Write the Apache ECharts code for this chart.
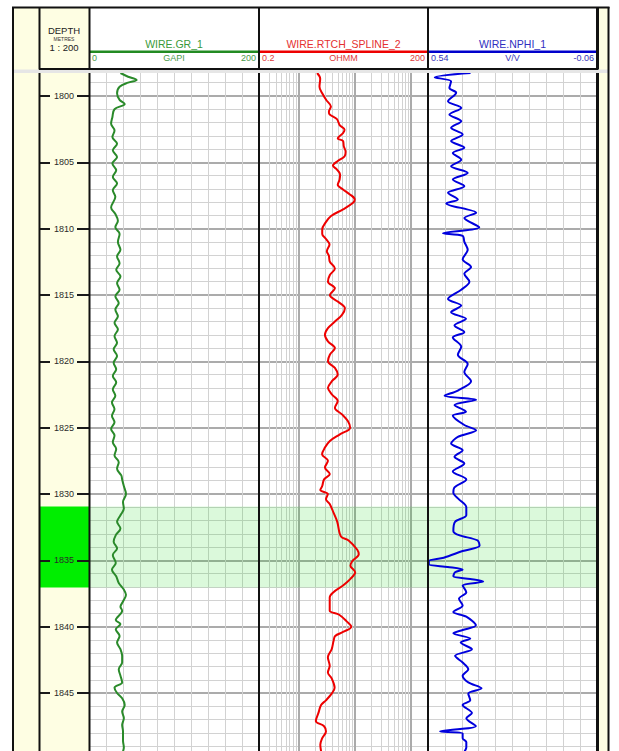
<!DOCTYPE html>
<html>
<head>
<meta charset="utf-8">
<script src="https://cdn.jsdelivr.net/npm/echarts@6/dist/echarts.min.js"></script>
<style>
html,body{margin:0;padding:0;background:#ffffff;}
#chart{width:619px;height:751px;}
</style>
</head>
<body>
<div id="chart"></div>
<script>
// ---------------- DATA ----------------
const depthTop = 1798.27;
const depthBottom = 1849.37;
const depthTickLabels = [1800, 1805, 1810, 1815, 1820, 1825, 1830, 1835, 1840, 1845];
const depthMinorLines = [1799,1800,1801,1802,1803,1804,1805,1806,1807,1808,1809,1810,1811,1812,1813,1814,1815,1816,1817,1818,1819,1820,1821,1822,1823,1824,1825,1826,1827,1828,1829,1830,1831,1832,1833,1834,1835,1836,1837,1838,1839,1840,1841,1842,1843,1844,1845,1846,1847,1848,1849];
const zoneTop = 1830.95;
const zoneBottom = 1837.05;

const rtGridMinor = [0.3,0.4,0.5,0.6,0.7,0.8,0.9,2,3,4,5,6,7,8,9,20,30,40,50,60,70,80,90];
const rtGridMajor = [1,10,100];

const grDepth = [1798.27,1798.55,1798.8,1799.0,1799.3,1799.8,1800.3,1800.6,1801.0,1801.6,1802.1,1802.6,1803.1,1803.6,1804.1,1804.6,1805.1,1805.6,1806.1,1806.6,1807.1,1807.6,1808.4,1808.9,1809.4,1809.9,1810.4,1811.0,1811.6,1812.1,1812.6,1813.1,1813.6,1814.1,1814.6,1815.1,1815.6,1816.1,1816.6,1817.1,1817.6,1818.1,1818.6,1819.1,1819.6,1820.1,1820.6,1821.1,1821.6,1822.1,1822.6,1823.1,1823.6,1824.1,1824.6,1825.1,1825.6,1826.1,1826.6,1827.1,1827.6,1828.1,1828.6,1828.9,1829.4,1830.0,1830.6,1831.1,1831.6,1832.1,1832.6,1833.1,1833.6,1834.1,1834.6,1835.2,1835.7,1836.2,1836.7,1837.2,1837.6,1838.1,1838.5,1838.8,1839.5,1839.8,1840.2,1840.7,1841.2,1841.7,1842.2,1842.7,1843.2,1843.7,1844.2,1844.6,1845.0,1845.4,1845.9,1846.4,1846.9,1847.4,1847.9,1848.6,1849.1,1849.4];
const grValue = [37,46,56,46,36,33,36,42,30,27.5,26,30,27.5,33,28,33,27.5,32,28,33,28,31,26,31,34,31,36,34,37,33,36,32,37,33,36,31,35,31,34,30,34,30,33,29,33,29,32,28,32,28,31,27,30,27,30,26,30,28,32,30,35,33,38,39,41,43.5,40,41,37,33,37,31.5,29,33,28,31.5,27,32,35,41,43.5,40,37,39,31.5,37,31.5,36,33,37,39,39,35,37,39,30,33,39,42,39,41,39,40,40,41,40];

const rtDepth = [1798.27,1798.7,1799.3,1799.8,1800.3,1800.8,1801.2,1801.4,1801.75,1802.2,1802.55,1802.8,1803.2,1803.4,1803.8,1804.2,1804.55,1804.9,1805.25,1805.55,1805.9,1806.3,1806.7,1807.05,1807.4,1807.8,1808.05,1808.55,1809.05,1809.55,1810.05,1810.4,1810.8,1811.2,1811.7,1812.05,1812.5,1813.0,1813.5,1814.0,1814.5,1815.0,1815.5,1816.0,1816.5,1817.0,1817.5,1818.0,1818.5,1819.0,1819.5,1820.0,1820.5,1821.0,1821.5,1822.0,1822.5,1823.0,1823.5,1824.0,1824.5,1825.0,1825.5,1826.0,1826.5,1827.0,1827.5,1828.0,1828.5,1828.9,1829.4,1829.7,1830.0,1830.4,1830.75,1831.4,1832.1,1833.2,1833.5,1834.2,1834.55,1835.05,1835.4,1835.9,1836.4,1836.9,1837.4,1837.8,1838.4,1838.8,1839.1,1839.6,1840.0,1840.4,1840.7,1841.1,1841.7,1842.3,1842.95,1843.45,1843.9,1844.6,1845.05,1845.55,1845.9,1846.5,1847.1,1847.5,1847.9,1848.4,1848.9,1849.4];
const rtValue = [2.15,2.44,2.37,2.65,3.12,3.78,3.48,3.6,4.84,5.4,6.6,6.2,5.0,6.2,6.4,6.9,6.6,5.0,4.1,4.84,5.5,5.4,5.0,6.2,8.1,10,9.35,6.2,3.8,3.03,2.65,2.65,3.12,3.57,3.2,3.48,3.62,4.45,3.62,3.35,4.45,3.62,5.0,6.7,5.94,4.45,3.35,2.96,3.35,4.45,3.62,3.35,4.45,5.0,3.94,3.35,3.94,5.0,4.45,5.94,7.55,8.3,5.45,3.62,2.96,2.63,3.35,2.96,3.62,2.86,2.65,2.45,3.34,3.09,3.6,4.2,4.9,5.7,7.8,11.1,11.8,9.1,8.4,10.2,8.4,6.2,4.2,3.6,3.6,3.6,5.3,7.2,8.7,6.2,4.5,4.2,3.9,3.34,3.6,3.34,3.9,4.4,3.9,3.09,2.53,2.27,2.04,2.86,3.09,2.65,2.45,2.53];

const nphiDepth = [1798.27,1798.6,1798.9,1799.4,1799.75,1800.4,1800.9,1801.4,1801.9,1802.4,1802.9,1803.4,1803.9,1804.3,1804.8,1805.3,1805.8,1806.3,1806.8,1807.3,1807.8,1808.1,1808.8,1809.2,1809.9,1810.35,1810.55,1811.0,1811.6,1812.3,1812.9,1813.4,1814.0,1814.6,1815.3,1815.8,1816.3,1816.8,1817.3,1817.8,1818.2,1818.9,1819.5,1820.2,1820.8,1821.5,1822.2,1822.6,1822.9,1823.3,1823.8,1824.1,1824.8,1825.2,1825.7,1826.2,1826.7,1827.2,1827.7,1828.3,1828.9,1829.5,1829.9,1830.4,1831.0,1831.6,1832.1,1832.8,1833.1,1833.5,1833.9,1834.3,1834.8,1835.05,1835.3,1835.5,1835.7,1835.9,1836.2,1836.4,1836.6,1836.9,1837.4,1837.9,1838.4,1838.9,1839.25,1839.9,1840.25,1840.5,1840.9,1841.2,1841.7,1842.2,1842.7,1843.2,1843.7,1844.2,1844.65,1845.05,1845.55,1845.9,1846.5,1846.9,1847.5,1847.75,1847.9,1848.05,1848.4,1848.7,1849.1,1849.4];
const nphiValue = [0.389,0.516,0.458,0.464,0.44,0.469,0.422,0.464,0.422,0.458,0.417,0.458,0.411,0.452,0.422,0.458,0.399,0.452,0.411,0.469,0.434,0.475,0.369,0.411,0.358,0.487,0.417,0.411,0.399,0.417,0.387,0.411,0.393,0.422,0.469,0.422,0.458,0.405,0.446,0.411,0.452,0.422,0.434,0.399,0.411,0.387,0.434,0.481,0.369,0.446,0.405,0.452,0.411,0.369,0.434,0.458,0.417,0.446,0.411,0.452,0.404,0.446,0.45,0.43,0.404,0.404,0.444,0.45,0.43,0.364,0.357,0.417,0.484,0.537,0.537,0.47,0.417,0.444,0.45,0.39,0.344,0.417,0.404,0.43,0.417,0.45,0.404,0.37,0.417,0.45,0.39,0.424,0.384,0.444,0.417,0.397,0.417,0.397,0.35,0.397,0.39,0.417,0.384,0.404,0.37,0.444,0.497,0.417,0.417,0.404,0.404,0.41];

// ---------------- LAYOUT ----------------
const FONT = "'Liberation Sans', Arial, sans-serif";
const TOP = 73, BOTTOM = 751;
const tracks = {
  depth: {left: 39, width: 50},
  gr: {left: 89, width: 170},
  rt: {left: 259, width: 169},
  nphi: {left: 428, width: 169}
};
const cream = '#fefee3';
const minorGridColor = '#d2d2d2';
const majorGridColor = '#ababab';

function grid(t) {
  return {left: t.left, width: t.width, top: TOP, height: BOTTOM - TOP, containLabel: false, show: false};
}
function depthSplitAxis(gridIndex, vals, color, width) {
  return {
    type: 'value', gridIndex: gridIndex, inverse: true, min: depthTop, max: depthBottom,
    axisLine: {show: false}, axisLabel: {show: false},
    axisTick: {show: false, customValues: vals},
    splitLine: {show: true, lineStyle: {color: color, width: width}}
  };
}
function zoneRender(color, xv) {
  return function (params, api) {
    const cs = params.coordSys;
    const y1 = api.coord([xv, api.value(0)])[1];
    const y2 = api.coord([xv, api.value(1)])[1];
    return {
      type: 'rect',
      shape: {x: cs.x, y: Math.min(y1, y2), width: cs.width, height: Math.abs(y2 - y1)},
      style: {fill: color}
    };
  };
}
function pairs(depths, vals) { return depths.map(function (d, i) { return [vals[i], d]; }); }

const lg = function (v) { return Math.log10(v); };
const zoneLight = 'rgba(0, 210, 0, 0.14)';

const option = {
  backgroundColor: '#ffffff',
  animation: false,
  grid: [grid(tracks.depth), grid(tracks.gr), grid(tracks.rt), grid(tracks.nphi)],
  xAxis: [
    {type: 'value', gridIndex: 0, min: 0, max: 1, show: false},
    {type: 'value', gridIndex: 1, min: 0, max: 200, interval: 20,
      axisLine: {show: false}, axisTick: {show: false}, axisLabel: {show: false},
      splitLine: {show: true, lineStyle: {color: minorGridColor, width: 1}}},
    {type: 'log', gridIndex: 2, min: 0.2, max: 200, logBase: 10, show: false},
    {type: 'value', gridIndex: 2, min: lg(0.2), max: lg(200),
      axisLine: {show: false}, axisLabel: {show: false},
      axisTick: {show: false, customValues: rtGridMinor.map(lg)},
      splitLine: {show: true, lineStyle: {color: minorGridColor, width: 1}}},
    {type: 'value', gridIndex: 2, min: lg(0.2), max: lg(200), position: 'top',
      axisLine: {show: false}, axisLabel: {show: false},
      axisTick: {show: false, customValues: rtGridMajor.map(lg)},
      splitLine: {show: true, lineStyle: {color: majorGridColor, width: 2}}},
    {type: 'value', gridIndex: 3, min: -0.06, max: 0.54, interval: 0.06, inverse: true,
      axisLine: {show: false}, axisTick: {show: false}, axisLabel: {show: false},
      splitLine: {show: true, lineStyle: {color: minorGridColor, width: 1}}}
  ],
  yAxis: [
    {type: 'value', gridIndex: 0, inverse: true, min: depthTop, max: depthBottom, position: 'left', z: 10,
      axisLine: {show: false}, splitLine: {show: false},
      axisTick: {show: true, inside: true, length: 11, lineStyle: {color: '#1a1a1a', width: 2}, customValues: depthTickLabels},
      axisLabel: {show: true, inside: true, margin: 25, align: 'center', verticalAlign: 'middle',
        fontSize: 9, fontFamily: FONT, color: '#2a2a2a', customValues: depthTickLabels,
        formatter: function (v) { return String(v); }}},
    {type: 'value', gridIndex: 0, inverse: true, min: depthTop, max: depthBottom, position: 'right', z: 10,
      axisLine: {show: false}, splitLine: {show: false}, axisLabel: {show: false},
      axisTick: {show: true, inside: true, length: 12, lineStyle: {color: '#1a1a1a', width: 2}, customValues: depthTickLabels}},
    depthSplitAxis(1, depthMinorLines, minorGridColor, 1),
    depthSplitAxis(1, depthTickLabels, majorGridColor, 2),
    depthSplitAxis(2, depthMinorLines, minorGridColor, 1),
    depthSplitAxis(2, depthTickLabels, majorGridColor, 2),
    depthSplitAxis(3, depthMinorLines, minorGridColor, 1),
    depthSplitAxis(3, depthTickLabels, majorGridColor, 2)
  ],
  series: [
    {type: 'custom', xAxisIndex: 0, yAxisIndex: 0, z: 1, silent: true,
      renderItem: zoneRender('#00ee00', 0.5), data: [[zoneTop, zoneBottom]]},
    {type: 'custom', xAxisIndex: 1, yAxisIndex: 2, z: 1, silent: true,
      renderItem: zoneRender(zoneLight, 100), data: [[zoneTop, zoneBottom]]},
    {type: 'custom', xAxisIndex: 3, yAxisIndex: 4, z: 1, silent: true,
      renderItem: zoneRender(zoneLight, 0), data: [[zoneTop, zoneBottom]]},
    {type: 'custom', xAxisIndex: 5, yAxisIndex: 6, z: 1, silent: true,
      renderItem: zoneRender(zoneLight, 0.2), data: [[zoneTop, zoneBottom]]},
    {name: 'WIRE.GR_1', type: 'line', xAxisIndex: 1, yAxisIndex: 2, z: 5,
      data: pairs(grDepth, grValue), symbol: 'none', smooth: 0.35, clip: true,
      lineStyle: {color: '#2a8a2a', width: 2}},
    {name: 'WIRE.RTCH_SPLINE_2', type: 'line', xAxisIndex: 2, yAxisIndex: 4, z: 5,
      data: pairs(rtDepth, rtValue), symbol: 'none', smooth: 0.35, clip: true,
      lineStyle: {color: '#ee0000', width: 2}},
    {name: 'WIRE.NPHI_1', type: 'line', xAxisIndex: 5, yAxisIndex: 6, z: 5,
      data: pairs(nphiDepth, nphiValue), symbol: 'none', smooth: 0.3, clip: true,
      lineStyle: {color: '#0000dd', width: 2}}
  ],
  graphic: {elements: []}
};

// ---------------- FRAME & HEADER (graphic) ----------------
const G = option.graphic.elements;
function rect(x, y, w, h, fill, z) { G.push({type: 'rect', silent: true, z: z, shape: {x: x, y: y, width: w, height: h}, style: {fill: fill}}); }
function line(x1, y1, x2, y2, color, w, z) { G.push({type: 'line', silent: true, z: z, shape: {x1: x1, y1: y1, x2: x2, y2: y2}, style: {stroke: color, lineWidth: w}}); }
function text(str, x, y, size, color, align) {
  G.push({type: 'text', silent: true, z: 120, x: x, y: y,
    style: {text: str, fill: color, font: size + 'px ' + FONT, textAlign: align || 'center', textVerticalAlign: 'middle'}});
}

// cream background of depth column and right strip
rect(13, 7, 76, 744, cream, -10);
rect(597, 7, 12, 744, cream, -10);
// separator band between header and body
rect(13, 69.5, 596, 3.5, '#e6e6e6', 90);

// outer frame
line(13, 7, 13, 751, '#111', 2, 100);
line(608.5, 7, 608.5, 751, '#111', 2, 100);
line(12, 7.5, 609.5, 7.5, '#111', 2, 100);
// header bottom
line(39, 69, 598, 69, '#111', 2, 100);
// track borders (header part and body part)
[39.5, 89.5, 259, 428].forEach(function (x) {
  line(x, 7, x, 69.5, '#111', 2, 100);
  line(x, 73, x, 751, '#111', 2, 100);
});
line(597.5, 7, 597.5, 69.5, '#111', 3, 100);
line(597.5, 73, 597.5, 751, '#111', 3, 100);

// depth header
text('DEPTH', 64, 30, 9.5, '#222222');
text('METRES', 64, 38.5, 5, '#333333');
text('1 : 200', 64, 47, 9.5, '#222222');

// curve headers
const headers = [
  {t: tracks.gr, title: 'WIRE.GR_1', unit: 'GAPI', lo: '0', hi: '200', tc: '#3a9a3a', lc: '#228b22', sc: '#4a9a4a'},
  {t: tracks.rt, title: 'WIRE.RTCH_SPLINE_2', unit: 'OHMM', lo: '0.2', hi: '200', tc: '#e53030', lc: '#ee0000', sc: '#e03a3a'},
  {t: tracks.nphi, title: 'WIRE.NPHI_1', unit: 'V/V', lo: '0.54', hi: '-0.06', tc: '#2f2fbf', lc: '#0000cc', sc: '#3434b8'}
];
headers.forEach(function (h) {
  const l = h.t.left, r = h.t.left + h.t.width, c = (l + r) / 2;
  text(h.title, c, 44, 10.5, h.tc, 'center');
  line(l, 51.75, r, 51.75, h.lc, 2.5, 95);
  text(h.lo, l + 3, 57.5, 9, h.sc, 'left');
  text(h.unit, c, 57.5, 9, h.sc, 'center');
  text(h.hi, r - 3, 57.5, 9, h.sc, 'right');
});

const chart = echarts.init(document.getElementById('chart'), null, {renderer: 'svg', width: 619, height: 751});
chart.setOption(option);
</script>
</body>
</html>
